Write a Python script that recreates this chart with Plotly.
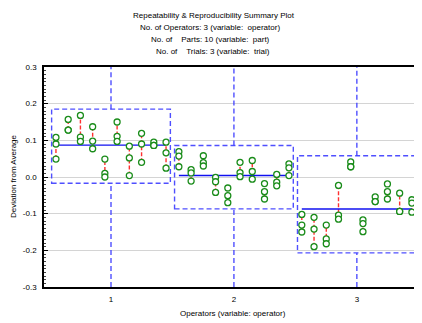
import plotly.graph_objects as go
import numpy as np

operators = [1, 2, 3]
operator_labels = ["1", "2", "3"]
parts = list(range(1, 11))

# Deviation from average, per operator: 10 parts x 3 trials
op1_values = [[0.108, 0.090, 0.049], [0.157, 0.128, 0.128], [0.168, 0.109, 0.097],
              [0.137, 0.098, 0.077], [0.049, 0.010, 0.000], [0.150, 0.111, 0.097],
              [0.084, 0.052, 0.004], [0.119, 0.090, 0.040], [0.095, 0.086, 0.086],
              [0.095, 0.066, 0.024]]
op2_values = [[0.069, 0.057, 0.028], [0.020, 0.011, -0.011], [0.058, 0.039, 0.030],
              [-0.001, -0.013, -0.042], [-0.030, -0.051, -0.070], [0.040, 0.012, 0.001],
              [0.045, 0.015, -0.006], [-0.018, -0.040, -0.060], [0.007, -0.014, -0.024],
              [0.036, 0.025, 0.004]]
op3_values = [[-0.102, -0.131, -0.150], [-0.110, -0.142, -0.190], [-0.131, -0.169, -0.182],
              [-0.023, -0.104, -0.115], [0.041, 0.028, 0.028], [-0.117, -0.127, -0.149],
              [-0.054, -0.067, -0.067], [-0.019, -0.040, -0.060], [-0.044, -0.094, -0.094],
              [-0.062, -0.071, -0.096]]
all_values = [op1_values, op2_values, op3_values]

title_lines = ["Repeatability & Reproducibility Summary Plot",
               "No. of Operators: 3 (variable:\u00a0 operator)",
               "No. of\u00a0\u00a0\u00a0\u00a0Parts: 10 (variable:\u00a0 part)",
               "No. of\u00a0\u00a0\u00a0\u00a0Trials: 3 (variable:\u00a0 trial)"]
x_title = "Operators (variable: operator)"
y_title = "Deviation from Average"
y_ticks = [-0.3, -0.2, -0.1, 0.0, 0.1, 0.2, 0.3]
y_ticktext = ["-0.3", "-0.2", "-0.1", "0.0", "0.1", "0.2", "0.3"]

# layout constants
part_step = 0.0995
box_half = 0.483
box_pad = 0.017
Y_MIN, Y_MAX = -0.3, 0.3
X_RANGE = [0.455, 3.53]

BLUE_D = "rgba(60,60,255,0.9)"
BLUE = "#1010f0"
RED = "#ff3030"
GREEN = "#1a8c1a"

fig = go.Figure()
shapes = []
for op, vals in zip(operators, all_values):
    vals = np.array(vals)
    xs = np.array([op + (p - 5.5) * part_step for p in parts])
    # red dashed range lines per part
    lx, ly = [], []
    for x, v in zip(xs, vals):
        lx += [x, x, None]
        ly += [v.min(), v.max(), None]
    fig.add_trace(go.Scatter(x=lx, y=ly, mode="lines",
                             line=dict(color=RED, width=1.4, dash="4px,2px"),
                             hoverinfo="skip", showlegend=False))
    # mean line
    m = vals.mean()
    fig.add_trace(go.Scatter(x=[xs[0], xs[-1]], y=[m, m], mode="lines",
                             line=dict(color=BLUE, width=1.4), showlegend=False))
    # box
    top = vals.max() + box_pad
    bot = vals.min() - box_pad
    shapes.append(dict(type="rect", xref="x", yref="y", x0=op - box_half, x1=op + box_half,
                       y0=bot, y1=top, line=dict(color=BLUE_D, width=1.4, dash="5px,3px"),
                       layer="above"))
    shapes.append(dict(type="line", xref="x", yref="y", x0=op, x1=op, y0=top, y1=Y_MAX,
                       line=dict(color=BLUE_D, width=1.4, dash="5px,3px"), layer="above"))
    shapes.append(dict(type="line", xref="x", yref="y", x0=op, x1=op, y0=Y_MIN, y1=bot,
                       line=dict(color=BLUE_D, width=1.4, dash="5px,3px"), layer="above"))
    # points
    px = np.repeat(xs, vals.shape[1])
    fig.add_trace(go.Scatter(x=px, y=vals.flatten(), mode="markers",
                             marker=dict(symbol="circle", size=6, color="white",
                                         line=dict(color=GREEN, width=1.3)),
                             showlegend=False))

# page offset (default body margin) compensation
OFF = 8
FIG_W, FIG_H = 422 - OFF, 323 - OFF
H_TOP, H_BOT, W_L, W_R = 67, 287, 44, 422  # plot area in window pixels


def px_to_paper(xp, yp):
    return (xp - W_L) / (W_R - W_L), (H_BOT - yp) / (H_BOT - H_TOP)


annotations = []
title_pos = [(131, 15.0), (138, 27.4), (149, 39.6), (154, 51.8)]
for txt, (xp, yp) in zip(title_lines, title_pos):
    ax, ay = px_to_paper(xp, yp)
    annotations.append(dict(text=txt, x=ax, y=ay, xref="paper", yref="paper",
                            xanchor="left", yanchor="middle", showarrow=False,
                            font=dict(size=8, color="black")))
ax, ay = px_to_paper(233.5, 313)
annotations.append(dict(text=x_title, x=ax, y=ay, xref="paper", yref="paper",
                        xanchor="center", yanchor="middle", showarrow=False,
                        font=dict(size=8, color="black")))
ax, ay = px_to_paper(13, 176)
annotations.append(dict(text=y_title, x=ax, y=ay, xref="paper", yref="paper",
                        xanchor="center", yanchor="middle", showarrow=False, textangle=-90,
                        font=dict(size=8, color="black")))

fig.update_layout(
    width=FIG_W, height=FIG_H,
    margin=dict(l=W_L - OFF, r=FIG_W + OFF - W_R, t=H_TOP - OFF, b=FIG_H + OFF - H_BOT, pad=0),
    paper_bgcolor="white", plot_bgcolor="white",
    font=dict(family="Liberation Sans, Arial, sans-serif", size=8, color="black"),
    shapes=shapes, annotations=annotations,
    xaxis=dict(range=X_RANGE, tickvals=operators, ticktext=operator_labels,
               showgrid=False, zeroline=False, showline=True, linecolor="black",
               linewidth=1.5, mirror=True, ticks="", ticklabelstandoff=4),
    yaxis=dict(range=[Y_MIN, Y_MAX], tickvals=y_ticks, ticktext=y_ticktext,
               showgrid=True, gridcolor="#d4d4d4", gridwidth=1, zeroline=False,
               showline=True, linecolor="black", linewidth=1.5,
               ticks="inside", ticklen=4, tickcolor="black", ticklabelstandoff=4,
               minor=dict(dtick=0.01, ticks="inside", ticklen=2, tickcolor="#444",
                          showgrid=False)),
    showlegend=False,
)

fig.write_html("out.html")
